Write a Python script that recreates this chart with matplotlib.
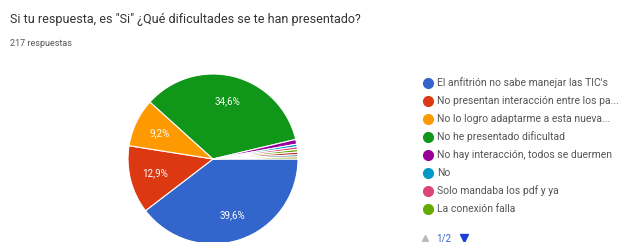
import matplotlib.pyplot as plt
from matplotlib.lines import Line2D

plt.rcParams['font.family'] = ['Roboto', 'DejaVu Sans']

W, H = 629, 242

title = 'Si tu respuesta, es "Si" ¿Qué dificultades se te han presentado?'
subtitle = '217 respuestas'

labels = ['El anfitrión no sabe manejar las TIC\'s',
          'No presentan interacción entre los pa...',
          'No lo logro adaptarme a esta nueva...',
          'No he presentado dificultad',
          'No hay interacción, todos se duermen',
          'No',
          'Solo mandaba los pdf y ya',
          'La conexión falla']
# remaining slices belong to the second legend page
values = [39.6, 12.9, 9.2, 34.6, 0.9, 0.5, 0.5, 0.5, 0.5, 0.4, 0.4]
colors = ['#3366cc', '#dc3912', '#ff9900', '#109618', '#990099', '#0099c6',
          '#dd4477', '#66aa00', '#b82e2e', '#316395', '#aaaa11']

fig = plt.figure(figsize=(W / 100, H / 100), dpi=100)

fig.text(10 / W, 1 - 20 / H, title, fontsize=9, color='#333333', va='center')
fig.text(10 / W, 1 - 43 / H, subtitle, fontsize=6.5, color='#555555', va='center')

# pie
cx, cy, r = 213, 159, 85
ax = fig.add_axes([(cx - r) / W, (H - cy - r) / H, 2 * r / W, 2 * r / H])


def pct(p):
    return ('%.1f%%' % p).replace('.', ',') if p > 5 else ''


wedges, texts, autotexts = ax.pie(values, colors=colors, startangle=0,
                                  counterclock=False, radius=1,
                                  autopct=pct, pctdistance=0.7,
                                  wedgeprops=dict(edgecolor='white', linewidth=0.8),
                                  textprops=dict(color='white', fontsize=7))
ax.set_xlim(-1, 1)
ax.set_ylim(-1, 1)
ax.set_aspect('equal')
ax.axis('off')

# legend
for i, lab in enumerate(labels):
    y = 1 - (83 + 18 * i) / H
    fig.add_artist(Line2D([428 / W], [y], marker='o', markersize=7,
                          color=colors[i], linestyle='none'))
    fig.text(437 / W, y, lab, fontsize=7.5, color='#555555', va='center')

# pager
y = 1 - 238 / H
fig.add_artist(Line2D([425 / W], [y], marker='^', markersize=5,
                      color='#bbbbbb', linestyle='none'))
fig.text(436 / W, y, '1/2', fontsize=7, color='#3366cc', va='center')
fig.add_artist(Line2D([464 / W], [y], marker='v', markersize=6,
                      color='#1a3fd6', linestyle='none'))

fig.savefig('out.png', dpi=100)
